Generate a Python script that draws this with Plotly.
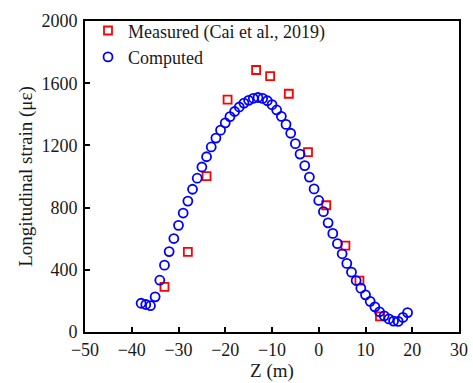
import plotly.graph_objects as go

# Measured data (Cai et al., 2019)
meas_z = [-33.0, -28.0, -24.0, -19.5, -13.4, -10.4, -6.4, -2.3, 1.6, 5.7, 8.7, 13.1]
meas_strain = [290, 515, 1003, 1495, 1685, 1646, 1532, 1157, 815, 555, 330, 100]

# Computed data
comp_z = list(range(-38, 20))
comp_strain = [185, 177, 169, 226, 333, 430, 517, 601, 686, 765,
               842, 918, 989, 1061, 1127, 1190, 1247, 1298, 1345, 1385,
               1418, 1447, 1472, 1490, 1503, 1508, 1502, 1487, 1462, 1428,
               1387, 1335, 1278, 1211, 1144, 1070, 996, 920, 846, 774,
               702, 634, 568, 503, 441, 385, 331, 282, 239, 197,
               162, 130, 104, 84, 70, 68, 94, 125]

x_ticks = [-50, -40, -30, -20, -10, 0, 10, 20, 30]
y_ticks = [0, 400, 800, 1200, 1600, 2000]

fig = go.Figure()
fig.add_trace(go.Scatter(
    x=meas_z, y=meas_strain, mode="markers", name="Measured (Cai et al., 2019)",
    marker=dict(symbol="square-open", size=8, color="#FF0000", line=dict(width=1.8, color="#FF0000")),
))
fig.add_trace(go.Scatter(
    x=comp_z, y=comp_strain, mode="markers", name="Computed",
    marker=dict(symbol="circle-open", size=9, color="#0000FF", line=dict(width=1.8, color="#0000FF")),
))

font = "Liberation Serif, Times New Roman, serif"
txt = "#1a1a1a"
axis_common = dict(
    showline=True, linecolor="black", linewidth=1.6, mirror=True,
    ticks="inside", ticklen=5, tickwidth=1.5, tickcolor="black",
    showgrid=False, zeroline=False, automargin=False,
    tickfont=dict(family=font, size=18, color=txt),
)

fig.update_layout(
    width=473, height=383,
    margin=dict(l=85, r=14, t=16, b=51),
    paper_bgcolor="white", plot_bgcolor="white",
    font=dict(family=font, size=18, color=txt),
    xaxis=dict(range=[-50, 30], tickvals=x_ticks, ticklabelstandoff=1,
               title=dict(text="Z (m)", font=dict(family=font, size=19, color=txt), standoff=2),
               **axis_common),
    yaxis=dict(range=[0, 2000], tickvals=y_ticks, ticklabelstandoff=2,
               title=dict(text="Longitudinal strain (\u03bc\u03b5)", font=dict(family=font, size=19, color=txt), standoff=4),
               **axis_common),
    legend=dict(x=0.008, y=1.028, xanchor="left", yanchor="top",
                bgcolor="rgba(0,0,0,0)", font=dict(family=font, size=18, color=txt),
                tracegroupgap=0),
    showlegend=True,
)

fig.write_html("out.html")
